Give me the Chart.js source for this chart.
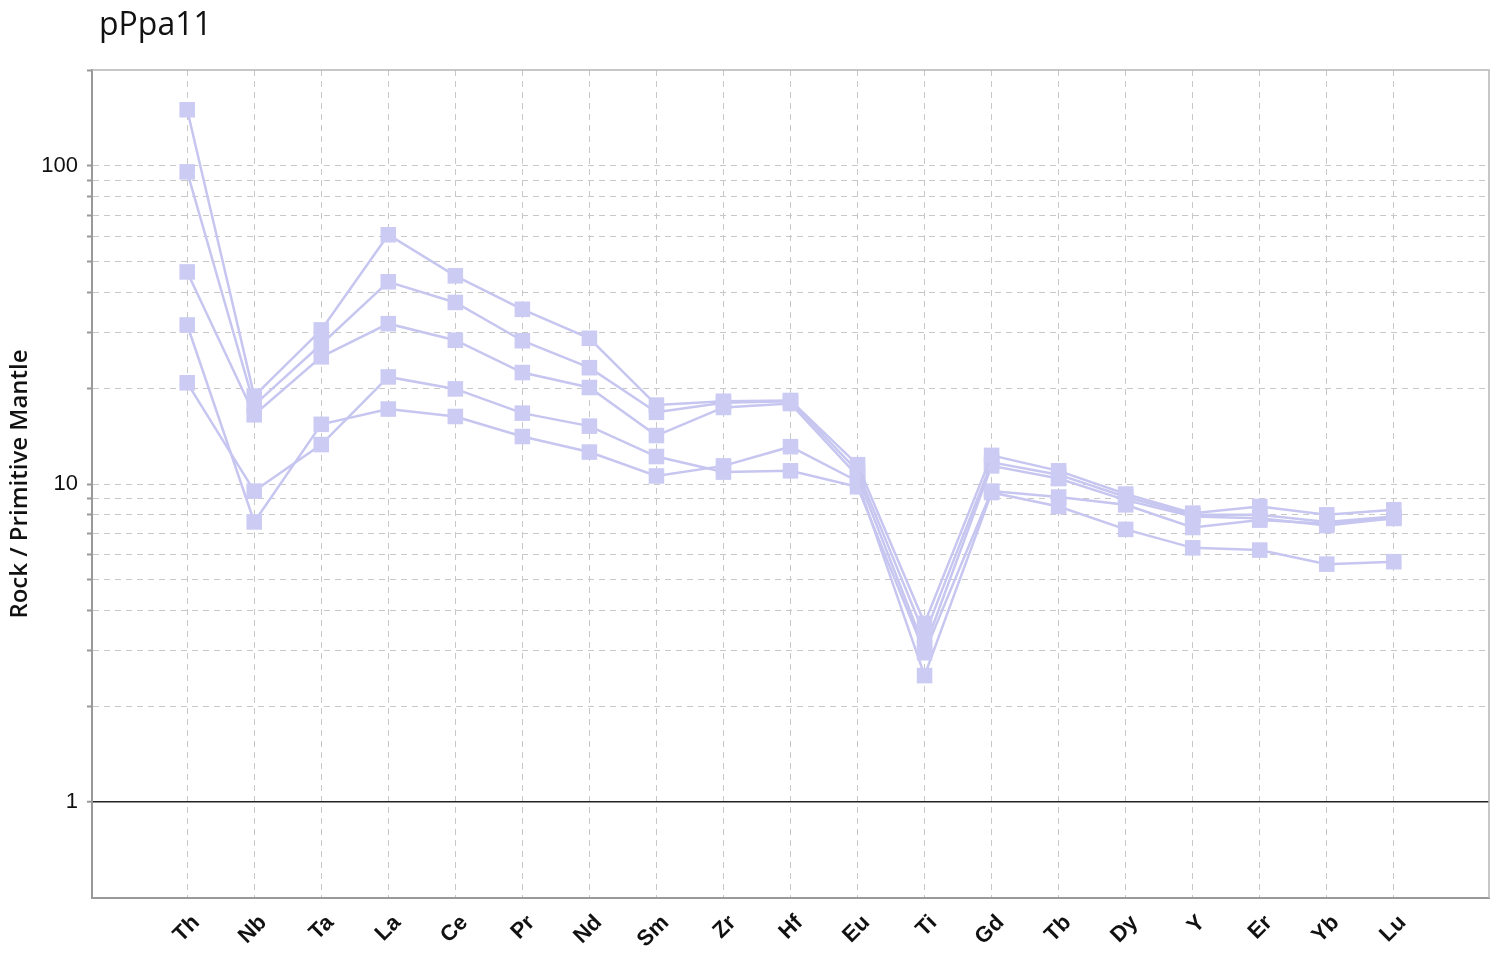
<!DOCTYPE html>
<html>
<head>
<meta charset="utf-8">
<script src="https://cdn.jsdelivr.net/npm/chart.js@4.4.1/dist/chart.umd.min.js"></script>
<style>
  html, body { margin: 0; padding: 0; background: #fff; }
  #wrap { position: relative; width: 1500px; height: 955px; }
  #title {
    position: absolute; left: 99px; top: 1px;
    font-family: "Open Sans", sans-serif; font-size: 32px; color: #111;
  }
</style>
</head>
<body>
<div id="wrap">
  <div id="title">pPpa11</div>
  <canvas id="spider" width="1500" height="955"></canvas>
</div>
<script>
const elements = ["Th", "Nb", "Ta", "La", "Ce", "Pr", "Nd", "Sm", "Zr", "Hf",
  "Eu", "Ti", "Gd", "Tb", "Dy", "Y", "Er", "Yb", "Lu"];

const sample1 = [150, 18.9, 30.5, 60.7, 45.1, 35.4, 28.7, 17.7, 18.2, 18.3, 11.5, 3.65, 12.3, 11.0, 9.3, 8.1, 8.5, 8.0, 8.3];
const sample2 = [95.7, 17.7, 27.5, 43.2, 37.2, 28.2, 23.2, 16.8, 18.0, 18.2, 11.0, 3.35, 11.7, 10.7, 9.1, 8.0, 8.0, 7.6, 7.9];
const sample3 = [46.4, 16.5, 25.1, 31.9, 28.3, 22.4, 20.1, 14.2, 17.4, 17.9, 10.6, 3.05, 11.4, 10.4, 8.9, 7.9, 7.8, 7.4, 7.8];
const sample4 = [20.8, 9.5, 13.3, 21.7, 19.9, 16.7, 15.2, 12.2, 10.9, 11.0, 9.8, 2.95, 9.5, 9.1, 8.6, 7.3, 7.7, 7.5, 7.8];
const sample5 = [31.6, 7.6, 15.4, 17.2, 16.3, 14.1, 12.6, 10.6, 11.4, 13.1, 10.2, 2.5, 9.4, 8.5, 7.2, 6.3, 6.2, 5.6, 5.7];

const yGridValues = [1, 2, 3, 4, 5, 6, 7, 8, 9, 10, 20, 30, 40, 50, 60, 70, 80, 90, 100, 200];
const yLabelValues = [1, 10, 100];

const lineColor = "#c6c6f0";
const sansFont = "'Liberation Sans', Arial, Helvetica, sans-serif";

function toPoints(values) {
  return values.map((v, i) => ({ x: i, y: v }));
}

const datasets = [sample1, sample2, sample3, sample4, sample5].map((s, i) => ({
  label: "sample " + (i + 1),
  data: toPoints(s),
  borderColor: lineColor,
  backgroundColor: lineColor,
  borderWidth: 2.5,
  pointStyle: "rect",
  pointRadius: 11,
  pointBorderWidth: 0,
  pointBackgroundColor: "#cbcbf4",
}));

// light frame on the top and right of the plot
const framePlugin = {
  id: "frame",
  afterDraw(chart) {
    const { ctx, chartArea: a } = chart;
    ctx.save();
    ctx.strokeStyle = "#b5b5b5";
    ctx.lineWidth = 1.5;
    ctx.beginPath();
    ctx.moveTo(a.left, a.top);
    ctx.lineTo(a.right, a.top);
    ctx.lineTo(a.right, a.bottom);
    ctx.stroke();
    ctx.restore();
  },
};

new Chart(document.getElementById("spider").getContext("2d"), {
  type: "line",
  data: { datasets: datasets },
  plugins: [framePlugin],
  options: {
    responsive: false,
    animation: false,
    layout: { padding: { top: 70, right: 10, left: 0, bottom: 0 } },
    plugins: {
      legend: { display: false },
      tooltip: { enabled: false },
    },
    scales: {
      x: {
        type: "linear",
        min: -1.42,
        max: 19.42,
        afterBuildTicks: (scale) => {
          scale.ticks = elements.map((_, i) => ({ value: i }));
        },
        afterFit: (scale) => {
          scale.height = 57;
        },
        grid: {
          color: "#c8c8c8",
          lineWidth: 1,
          drawTicks: false,
        },
        border: { color: "#999", width: 2, dash: [6, 5] },
        ticks: {
          autoSkip: false,
          minRotation: 45,
          maxRotation: 45,
          padding: 12,
          labelOffset: 9,
          color: "#111",
          font: { family: sansFont, size: 22, weight: "bold" },
          callback: (value) => elements[value] || "",
        },
      },
      y: {
        type: "logarithmic",
        min: 0.5,
        max: 200,
        afterBuildTicks: (scale) => {
          scale.ticks = yGridValues.map((v) => ({ value: v }));
        },
        afterFit: (scale) => {
          scale.width = 92;
        },
        grid: {
          color: (c) => {
            if (!c.tick) return "#c8c8c8";
            if (c.tick.value === 1) return "#222";
            if (c.tick.value === 200) return "rgba(0,0,0,0)";
            return "#c8c8c8";
          },
          lineWidth: (c) => (c.tick && c.tick.value === 1 ? 1.5 : 1),
          drawTicks: true,
          tickLength: 5,
          tickColor: "#999",
          tickWidth: 2,
        },
        border: {
          color: "#999",
          width: 2,
          dash: (c) => (c.tick && c.tick.value !== 1 ? [6, 5] : []),
        },
        ticks: {
          autoSkip: false,
          padding: 9,
          color: "#111",
          font: { family: sansFont, size: 22 },
          callback: (value) => (yLabelValues.includes(value) ? String(value) : ""),
        },
        title: {
          display: true,
          text: "Rock / Primitive Mantle",
          color: "#111",
          padding: { top: 6, bottom: 0 },
          font: { family: "'Open Sans', sans-serif", size: 24, weight: "600" },
        },
      },
    },
  },
});
</script>
</body>
</html>
